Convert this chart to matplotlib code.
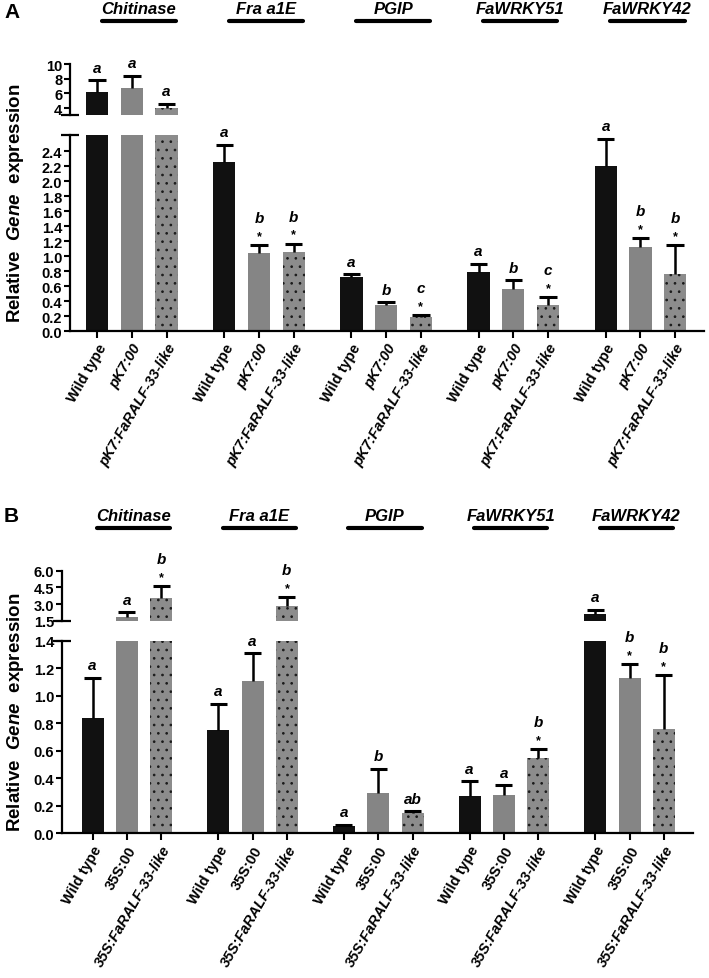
import numpy as np
import matplotlib
matplotlib.use('Agg')
import matplotlib.pyplot as plt
from matplotlib.transforms import blended_transform_factory

plt.rcParams['font.family'] = ['Liberation Sans', 'DejaVu Sans']
plt.rcParams['font.weight'] = 'bold'
plt.rcParams['mathtext.fontset'] = 'custom'
plt.rcParams['mathtext.it'] = 'Liberation Sans:bold:italic'
plt.rcParams['mathtext.rm'] = 'Liberation Sans:bold'
plt.rcParams['hatch.linewidth'] = 0.7

genes = ['Chitinase', 'Fra a1E', 'PGIP', 'FaWRKY51', 'FaWRKY42']

# panel A: pK7 lines
a_lines = ['Wild type', 'pK7:00', 'pK7:FaRALF-33-like']
a_mean = [[6.14, 6.69, 3.95], [2.26, 1.05, 1.06], [0.72, 0.35, 0.19],
          [0.79, 0.56, 0.35], [2.21, 1.13, 0.76]]
a_err = [[1.69, 1.74, 0.62], [0.23, 0.10, 0.11], [0.04, 0.04, 0.03],
         [0.11, 0.12, 0.11], [0.36, 0.11, 0.39]]
a_letters = [['a', 'a', 'a'], ['a', 'b', 'b'], ['a', 'b', 'c'],
             ['a', 'b', 'c'], ['a', 'b', 'b']]
a_stars = [[0, 0, 0], [0, 1, 1], [0, 0, 1], [0, 0, 1], [0, 1, 1]]

# panel B: 35S lines
b_lines = ['Wild type', '35S:00', '35S:FaRALF-33-like']
b_mean = [[0.84, 1.80, 3.52], [0.75, 1.11, 2.80], [0.05, 0.29, 0.15],
          [0.27, 0.28, 0.545], [2.10, 1.13, 0.76]]
b_err = [[0.29, 0.45, 1.13], [0.19, 0.20, 0.80], [0.012, 0.18, 0.012],
         [0.11, 0.07, 0.065], [0.39, 0.10, 0.39]]
b_letters = [['a', 'a', 'b'], ['a', 'a', 'b'], ['a', 'b', 'ab'],
             ['a', 'a', 'b'], ['a', 'b', 'b']]
b_stars = [[0, 0, 1], [0, 0, 1], [0, 0, 0], [0, 0, 1], [0, 1, 1]]

W, H = 709, 979
fig = plt.figure(figsize=(W / 100, H / 100), dpi=100)

GROUP = 3.66
colors = ['#111111', '#858585', '#8c8c8c']
hatches = [None, None, '..']


def frac(l, r, top, bot):
    return [l / W, 1 - bot / H, (r - l) / W, (bot - top) / H]


def style_axis(ax, xlim, ylim, ticks, fmt):
    ax.set_xlim(*xlim)
    ax.set_ylim(*ylim)
    for s in ['top', 'right']:
        ax.spines[s].set_visible(False)
    ax.spines['left'].set_linewidth(1.6)
    ax.spines['bottom'].set_linewidth(1.6)
    ax.set_yticks(ticks)
    ax.set_yticklabels([fmt % t for t in ticks], fontsize=10.5, fontweight='bold')
    ax.tick_params(axis='y', length=4.5, width=1.5, pad=1)
    ax.patch.set_visible(False)


def break_mark(ax, y):
    ax.plot([-0.014, 0.014], [y, y], transform=ax.transAxes, color='k',
            lw=1.6, clip_on=False, solid_capstyle='butt')


def draw_panel(lower_pos, upper_pos, xlim, low_lim, up_lim, low_ticks, up_ticks,
               low_fmt, up_fmt, lines, mean, err, letters, stars, tag, tag_y,
               head_y, line_y, ylab_y):
    lo = fig.add_axes(frac(*lower_pos))
    up = fig.add_axes(frac(*upper_pos))
    style_axis(lo, xlim, low_lim, low_ticks, low_fmt)
    style_axis(up, xlim, up_lim, up_ticks, up_fmt)
    up.spines['bottom'].set_visible(False)
    up.set_xticks([])
    break_mark(up, 0)
    break_mark(lo, 1)

    xs, labels = [], []
    for g in range(len(genes)):
        for i in range(3):
            x = g * GROUP + i
            xs.append(x)
            labels.append(lines[i])
            m = mean[g][i]
            e = err[g][i]
            for ax in (lo, up):
                ax.bar(x, m, width=0.64, color=colors[i], hatch=hatches[i],
                       edgecolor='#1a1a1a', linewidth=0)
                ax.vlines(x, m, m + e, color='k', lw=1.8)
                ax.hlines(m + e, x - 0.25, x + 0.25, color='k', lw=2.2)
            top = m + e
            ax = up if top > low_lim[1] else lo
            if stars[g][i]:
                ax.annotate('*', (x, top), xytext=(0, 6.5), textcoords='offset points',
                            ha='center', va='center', fontsize=9, fontweight='bold')
                ly = 19.5
            else:
                ly = 9
            ax.annotate(letters[g][i], (x, top), xytext=(0, ly),
                        textcoords='offset points', ha='center', va='center',
                        fontsize=11, fontweight='bold', fontstyle='italic')

    lo.set_xticks(xs)
    lo.set_xticklabels(labels, rotation=60, ha='right', rotation_mode='anchor',
                       fontsize=10.5, fontweight='bold')
    for k, t in enumerate(lo.get_xticklabels()):
        if k % 3 == 2 or (k % 3 == 1 and lines[1].startswith('pK7')):
            t.set_fontstyle('italic')
    lo.tick_params(axis='x', length=5, width=1.5, pad=2)

    tr = blended_transform_factory(lo.transData, fig.transFigure)
    for g, name in enumerate(genes):
        c = g * GROUP + 1 + 0.2
        fig.text(c, 1 - head_y / H, name, transform=tr, ha='center', va='center',
                 fontsize=12, fontweight='bold', fontstyle='italic')
        fig.add_artist(plt.Line2D([c - 1.07, c + 1.07], [1 - line_y / H] * 2,
                                  transform=tr, color='k', lw=3,
                                  solid_capstyle='round'))

    fig.text(4 / W, 1 - tag_y / H, tag, fontsize=15, fontweight='bold',
             ha='left', va='center')
    fig.text(16 / W, 1 - ylab_y / H, r'Relative  $\mathit{Gene}$  expression',
             rotation=90, ha='center', va='center', fontsize=13.5,
             fontweight='bold')


draw_panel((70, 704, 136, 332.3), (70, 704, 65.3, 116.3),
           (-0.78, 17.47), (0, 2.62), (3, 10),
           np.arange(0, 2.41, 0.2), [4, 6, 8, 10], '%.1f', '%d',
           a_lines, a_mean, a_err, a_letters, a_stars, 'A', 13, 10, 21.7, 203)

draw_panel((62, 692.7, 641.7, 834.3), (62, 692.7, 571.7, 621.7),
           (-0.89, 17.48), (0, 1.4), (1.5, 6.0),
           np.arange(0, 1.41, 0.2), [1.5, 3.0, 4.5, 6.0], '%.1f', '%.1f',
           b_lines, b_mean, b_err, b_letters, b_stars, 'B', 517, 516.7, 529, 712)

fig.savefig('out.png', dpi=100)
